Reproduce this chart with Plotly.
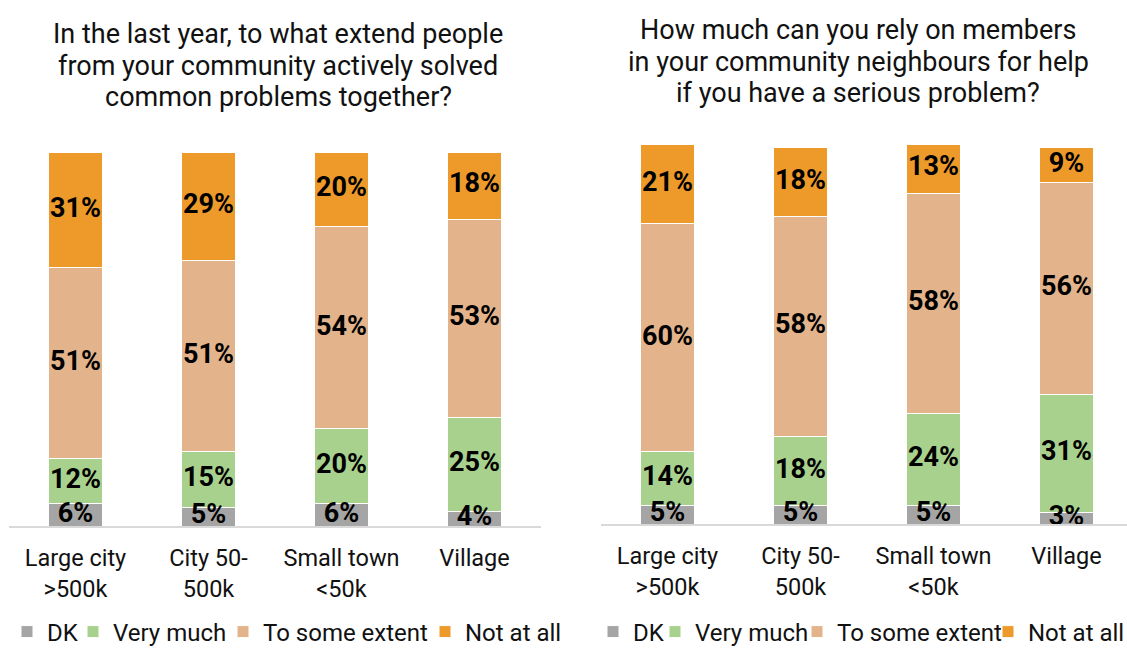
import plotly.graph_objects as go

# Settlement categories shared by both panels
categories = ["Large city<br>&gt;500k", "City 50-<br>500k", "Small town<br>&lt;50k", "Village"]
series_names = ["DK", "Very much", "To some extent", "Not at all"]

# Panel 1: solved common problems together (%)
solve_dk = [6, 5, 6, 4]
solve_very_much = [12, 15, 20, 25]
solve_some_extent = [51, 51, 54, 53]
solve_not_at_all = [31, 29, 20, 18]

# Panel 2: can rely on neighbours for help (%)
rely_dk = [5, 5, 5, 3]
rely_very_much = [14, 18, 24, 31]
rely_some_extent = [60, 58, 58, 56]
rely_not_at_all = [21, 18, 13, 9]

title_left = ["In the last year, to what extend people",
              "from your community actively solved",
              "common problems together?"]
title_right = ["How much can you rely on members",
               "in your community neighbours for help",
               "if you have a serious problem?"]

colors = ["#A5A5A5", "#A9D18E", "#E3B48B", "#ED9A2A"]
FONT = "Roboto"
W, H = 1127, 648

fig = go.Figure()


def add_panel(series, xa, ya, legend_name, entry_widths):
    base = [0] * len(categories)
    for name, vals, col, ew in zip(series_names, series, colors, entry_widths):
        fig.add_trace(go.Bar(
            x=categories, y=vals, name=name,
            marker=dict(color=col, line=dict(color="white", width=1)),
            xaxis=xa, yaxis=ya, legend=legend_name, legendwidth=ew,
            hoverinfo="skip",
        ))
        mids = [b + v / 2 for b, v in zip(base, vals)]
        fig.add_trace(go.Scatter(
            x=categories, y=mids, mode="text",
            text=[f"{v}%" for v in vals],
            textfont=dict(family=FONT, size=27, color="#000000", weight="bold"),
            xaxis=xa, yaxis=ya, showlegend=False, cliponaxis=False,
            hoverinfo="skip",
        ))
        base = [b + v for b, v in zip(base, vals)]


add_panel([solve_dk, solve_very_much, solve_some_extent, solve_not_at_all],
          "x", "y", "legend", [21, 105, 157, 100])
add_panel([rely_dk, rely_very_much, rely_some_extent, rely_not_at_all],
          "x2", "y2", "legend2", [17, 97, 146, 97])

xaxis_common = dict(
    type="category", showgrid=False, zeroline=False,
    showline=True, linecolor="#D9D9D9", linewidth=1.5,
    ticks="", ticklabelstandoff=10,
    tickfont=dict(family=FONT, size=23.5, color="#111111"),
    fixedrange=True,
)
yaxis_common = dict(range=[0, 100], visible=False, fixedrange=True)

legend_common = dict(
    orientation="h", traceorder="normal", bgcolor="rgba(0,0,0,0)",
    font=dict(family=FONT, size=24, color="#111111"),
    yanchor="middle", y=(H - 632) / H, xanchor="left",
)

annotations = []
for lines, cx, y0 in ((title_left, 278, 34), (title_right, 858, 30)):
    for i, line in enumerate(lines):
        annotations.append(dict(
            text=line, x=cx / W, y=1 - (y0 + 31.5 * i) / H,
            xref="paper", yref="paper", xanchor="center", yanchor="middle",
            showarrow=False, font=dict(family=FONT, size=27, color="#111111"),
        ))

fig.update_layout(
    width=W, height=H, autosize=False,
    margin=dict(l=0, r=0, t=0, b=0, autoexpand=False),
    paper_bgcolor="white", plot_bgcolor="white",
    barmode="stack", bargap=0.6,
    xaxis=dict(xaxis_common, domain=[9 / W, 541 / W], range=[-0.5, 3.5], anchor="y"),
    yaxis=dict(yaxis_common, domain=[(H - 526) / H, (H - 152) / H], anchor="x"),
    xaxis2=dict(xaxis_common, domain=[601 / W, 1.0], range=[-0.5, 3.455], anchor="y2"),
    yaxis2=dict(yaxis_common, domain=[(H - 524) / H, (H - 144) / H], anchor="x2"),
    legend=dict(legend_common, x=7 / W),
    legend2=dict(legend_common, x=593 / W),
    annotations=annotations,
    showlegend=True,
)

fig.write_html("out.html", config={"displayModeBar": False})
